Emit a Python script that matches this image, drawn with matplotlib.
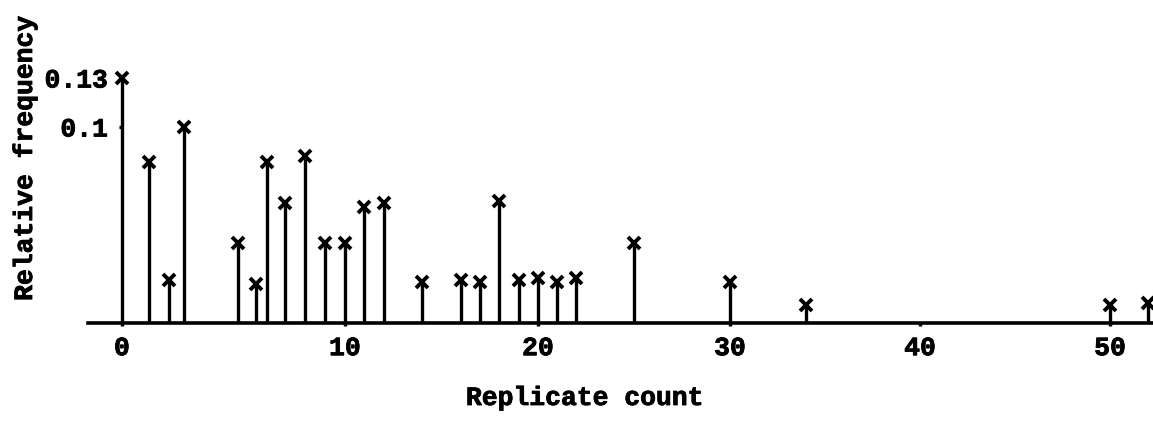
import numpy as np
import matplotlib
matplotlib.use("Agg")
import matplotlib.pyplot as plt
import matplotlib.patheffects as pe

# replicate counts and their relative frequencies
replicate_count = [0, 1.2, 2.1, 2.8, 5.2, 6.0, 6.5, 7.3, 8.2, 9.1, 10, 11, 12,
                   14, 16, 17, 18, 19, 20, 21, 22, 25, 30, 34, 50, 52]
rel_freq = [0.125, 0.082, 0.022, 0.100, 0.041, 0.020, 0.082, 0.061, 0.085,
            0.041, 0.041, 0.059, 0.061,
            0.021, 0.022, 0.021, 0.062, 0.022, 0.023, 0.021, 0.023,
            0.041, 0.021, 0.009, 0.009, 0.010]
x_ticks = [0, 10, 20, 30, 40, 50]
y_ticks = [0.1, 0.125]
y_ticklabels = ["0.1", "0.13"]

# the hand-drawn axis is not evenly spaced: 0-10 is wider than the rest
knots = [-5, 0, 10, 20, 30, 40, 50, 60]
drawn = [-111.5, 0, 223, 416, 608, 798, 988, 1178]

def fwd(x):
    return np.interp(x, knots, drawn)

def inv(p):
    return np.interp(p, drawn, knots)

plt.rcParams['font.family'] = "Liberation Mono"
plt.rcParams['font.weight'] = 'bold'
fs = 19
heavy = [pe.withStroke(linewidth=0.6, foreground='black')]

fig = plt.figure(figsize=(11.53, 4.25), dpi=100)
ax = fig.add_axes([88 / 1153, 0.24, 1 - 88 / 1153, 0.76])
ax.set_xscale('function', functions=(fwd, inv))

ml, sl, bl = ax.stem(replicate_count, rel_freq, linefmt='k-', markerfmt='kx', basefmt=' ')
sl.set_linewidth(2.4)
ml.set_markersize(8.5)
ml.set_markeredgewidth(2.8)
ml.set_clip_on(False)
sl.set_clip_on(False)

ax.set_xlim(-1.52, 52.26)
ax.set_ylim(0, 0.1648)

for s in ['top', 'right']:
    ax.spines[s].set_visible(False)
ax.spines['left'].set_position(('data', 0))
ax.spines['left'].set_visible(False)
ax.spines['bottom'].set_linewidth(2.6)

ax.set_xticks(x_ticks)
ax.set_xticklabels([str(t) for t in x_ticks])
ax.xaxis.set_minor_locator(matplotlib.ticker.NullLocator())
ax.tick_params(axis='x', direction='out', length=2.5, width=2.5, pad=7, labelsize=fs)
ax.set_yticks(y_ticks)
ax.set_yticklabels(y_ticklabels)
ax.tick_params(axis='y', direction='out', length=2, width=2.5, pad=8, labelsize=fs)
for lab in ax.get_xticklabels() + ax.get_yticklabels():
    lab.set_path_effects(heavy)

fig.text(585 / 1153, 1 - 398 / 425, "Replicate count", ha='center', va='center',
         fontsize=fs, fontweight='bold', path_effects=heavy)
fig.text(25 / 1153, 1 - 158 / 425, "Relative frequency", ha='center', va='center',
         rotation=90, fontsize=fs, fontweight='bold', path_effects=heavy)

fig.savefig("out.png", dpi=100)
